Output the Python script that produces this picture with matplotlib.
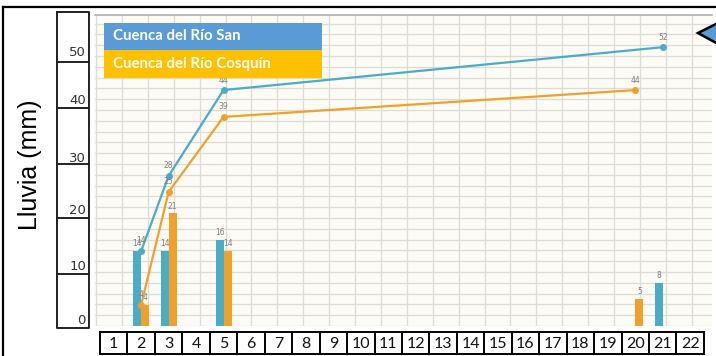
import numpy as np
import matplotlib
matplotlib.use("Agg")
import matplotlib.pyplot as plt
from matplotlib.patches import Rectangle, Polygon

# datos de lluvia diaria (mm) por cuenca
series_names = ["Cuenca del Río San", "Cuenca del Río Cosquín"]
dias_san = [2, 3, 5, 21]
lluvia_san = [14, 14, 16, 8]
dias_cosquin = [2, 3, 5, 20]
lluvia_cosquin = [4, 21, 14, 5]
acum_san = np.cumsum(lluvia_san)          # 14, 28, 44, 52
acum_cosquin = np.cumsum(lluvia_cosquin)  # 4, 25, 39, 44

x_labels = [str(d) for d in range(1, 23)]
y_labels = ["50", "40", "30", "20", "10", "0"]

c_san = "#4aacc6"
c_cos = "#efa12c"
c_leg_san = "#5b9bd5"
c_leg_cos = "#ffc000"

W, H = 716, 356
fig = plt.figure(figsize=(W / 100, H / 100), dpi=100)
fig.patch.set_facecolor("white")


def box(l, t, r, b):
    # pixeles -> fraccion de figura
    return [l / W, 1 - b / H, (r - l) / W, (b - t) / H]


# fondo tipo hoja de calculo
bg = fig.add_axes(box(95, 15, 712, 326))
bg.set_facecolor("#fcfbf5")
bg.set_xlim(95, 712)
bg.set_ylim(326, 15)
bg.set_xticks(np.arange(96, 712, 25.9))
bg.set_yticks(np.arange(326, 15, -10.8))
bg.grid(True, color="#dedbd3", lw=0.9)
bg.tick_params(length=0, labelleft=False, labelbottom=False)
for s in ["left", "right", "bottom"]:
    bg.spines[s].set_visible(False)
bg.spines["top"].set_color("#b0b0b0")
bg.spines["top"].set_linewidth(1.2)

# grafico
ax = fig.add_axes(box(100, 15, 704, 326))
ax.patch.set_alpha(0)
ax.set_xlim(0.5, 22.5)
ax.set_ylim(0, 58)
ax.axis("off")

bw = 0.29
b1 = ax.bar(np.array(dias_san) - bw / 2, lluvia_san, width=bw, color=c_san, zorder=2)
b2 = ax.bar(np.array(dias_cosquin) + bw / 2, lluvia_cosquin, width=bw, color=c_cos, zorder=2)
ax.bar_label(b1, fontsize=5.5, color="#808080", padding=2)
ax.bar_label(b2, fontsize=5.5, color="#808080", padding=2)

ax.plot(dias_san, acum_san, color=c_san, lw=1.6, marker="o", ms=4, zorder=3)
ax.plot(dias_cosquin, acum_cosquin, color=c_cos, lw=1.6, marker="o", ms=4, zorder=3)
for xs, ys in [(dias_san, acum_san), (dias_cosquin, acum_cosquin)]:
    for x, y in zip(xs, ys):
        ax.annotate(str(y), (x, y), xytext=(0, 4), textcoords="offset points",
                    ha="center", va="bottom", fontsize=5.5, color="#808080")

# capa de decoracion en pixeles
deco = fig.add_axes([0, 0, 1, 1])
deco.patch.set_alpha(0)
deco.set_xlim(0, W)
deco.set_ylim(H, 0)
deco.axis("off")

# marco exterior
deco.plot([3, 3], [7, H], color="black", lw=1.6)
deco.plot([3, W], [7, 7], color="black", lw=1.6)

# tabla del eje y
deco.plot([57, 57, 89, 89, 57], [12, 328, 328, 12, 12], color="#222222", lw=1.4)
for yy in [62, 108, 164, 218, 274]:
    deco.plot([57, 89], [yy, yy], color="#222222", lw=1.4)
for lab, yy in zip(y_labels, [53, 101, 158, 211, 267, 321]):
    deco.text(86, yy, lab, ha="right", va="center", fontsize=9.5,
              color="#333333", family="DejaVu Sans")

deco.text(30, 165, "Lluvia (mm)", rotation=90, ha="center", va="center",
          fontsize=18, family="Liberation Sans", color="black")

# casillas del eje x
x0, cw = 100, 27.45
deco.plot([x0, x0 + 22 * cw], [332, 332], color="black", lw=1.4)
deco.plot([x0, x0 + 22 * cw], [354, 354], color="black", lw=1.4)
for k in range(23):
    deco.plot([x0 + k * cw] * 2, [332, 354], color="black", lw=1.4)
for k, lab in enumerate(x_labels):
    deco.text(x0 + (k + 0.5) * cw, 343.5, lab, ha="center", va="center",
              fontsize=11.5, family="Lato", color="#111111")

# leyenda
deco.add_patch(Rectangle((104, 23), 218, 27, color=c_leg_san, lw=0))
deco.add_patch(Rectangle((104, 50), 218, 28, color=c_leg_cos, lw=0))
deco.text(113, 36.5, series_names[0], ha="left", va="center", color="white",
          fontsize=10.8, fontweight="bold", family="Lato")
deco.text(113, 64, series_names[1], ha="left", va="center", color="white",
          fontsize=10.8, fontweight="bold", family="Lato")

# flecha recortada arriba a la derecha
deco.add_patch(Polygon([(698, 33), (718, 23), (718, 44)], closed=True,
                       facecolor=c_leg_san, edgecolor="black", lw=1.8))

fig.savefig("out.png", dpi=100)
